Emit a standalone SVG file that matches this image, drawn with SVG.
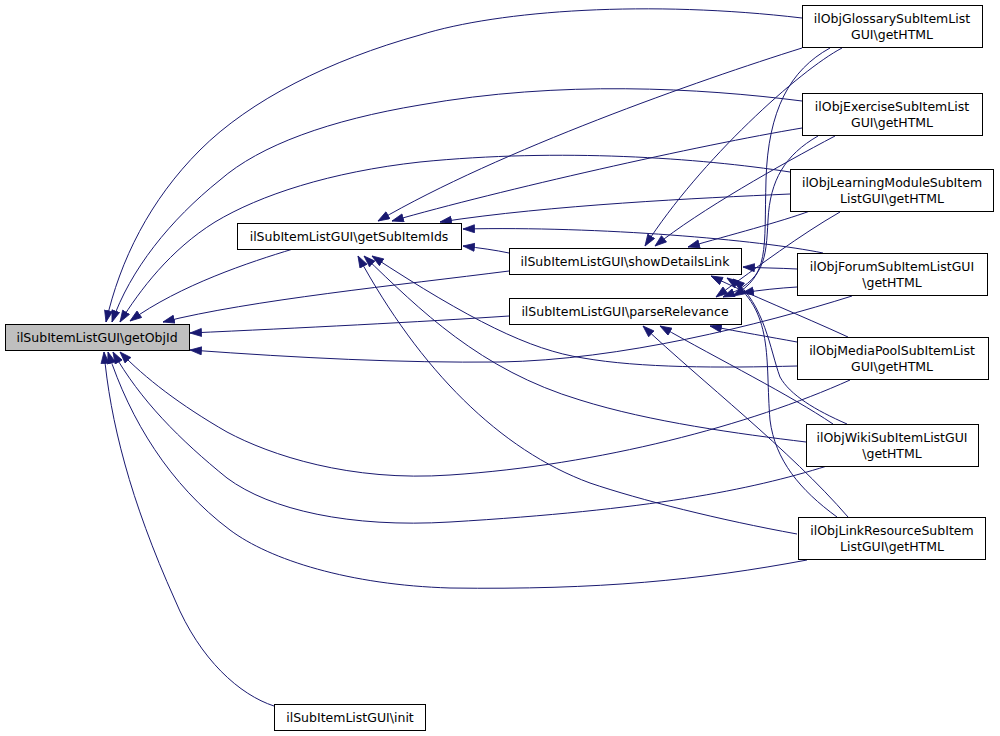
<svg xmlns="http://www.w3.org/2000/svg" width="1000" height="736" viewBox="0 0 1000 736">
<style>
.n rect{fill:#fff;stroke:#000;stroke-width:1}
.n text{font-family:"DejaVu Sans",sans-serif;font-size:12.5px;text-anchor:middle;fill:#000}
#n0 rect{fill:#bfbfbf}
.e path{fill:none;stroke:#191970;stroke-width:1;marker-end:url(#a)}
</style>
<defs>
<marker id="a" markerUnits="userSpaceOnUse" markerWidth="13" markerHeight="10" refX="12" refY="4.5" orient="auto">
<path d="M0.5,0.5 L12,4.5 L0.5,8.5 z" fill="#191970" stroke="#191970" stroke-width="0.8"/>
</marker>
</defs>
<rect width="1000" height="736" fill="#fff"/>
<g id="edges" class="e">
<path d="M802,18 C650,0 500,10 420,35 C330,60 250,100 200,150 C150,200 120,260 106,322"/>
<path d="M802,101 C700,88 560,80 420,105 C330,120 260,145 220,180 C170,220 130,270 112,322"/>
<path d="M790,172 C700,158 560,148 420,162 C330,172 260,195 215,222 C170,250 140,290 120,322"/>
<path d="M293,249 C250,262 180,285 130,321"/>
<path d="M509,271 C400,285 250,300 163,322"/>
<path d="M509,316 C420,322 300,328 190,333"/>
<path d="M852,296 C760,325 620,360 500,362 C400,363 300,358 190,350"/>
<path d="M850,380 C750,425 600,465 450,475 C350,482 270,455 227,432 C180,405 145,378 120,352"/>
<path d="M827,466 C750,490 650,510 450,522 C350,528 270,510 227,478 C180,440 140,400 113,352"/>
<path d="M807,560 C700,580 600,590 450,588 C350,585 270,560 230,530 C170,485 130,420 108,352"/>
<path d="M274,706 C240,695 200,660 175,600 C130,500 110,420 104,352"/>
<path d="M802,48 C700,80 500,150 378,221"/>
<path d="M802,128 C700,145 500,190 392,221"/>
<path d="M790,194 C700,198 550,205 440,222"/>
<path d="M823,253 C760,240 600,226 463,229"/>
<path d="M509,253 C495,250 480,248 463,246"/>
<path d="M797,366 C720,368 640,368 583,358 C530,350 470,320 372,256"/>
<path d="M806,442 C740,434 650,422 580,400 C480,370 420,310 364,256"/>
<path d="M797,534 C720,520 640,500 590,483 C500,450 420,370 358,256"/>
<path d="M842,48 C800,70 700,160 645,246"/>
<path d="M835,136 C780,165 700,210 655,246"/>
<path d="M810,211 C780,222 730,235 688,247"/>
<path d="M797,269 C780,268 760,268 743,267"/>
<path d="M848,337 C800,315 750,295 711,276"/>
<path d="M847,424 C815,410 790,395 780,377 C770,350 765,305 733,279"/>
<path d="M837,517 C800,490 775,460 770,420 C765,360 775,310 727,278"/>
<path d="M830,48 C790,70 768,110 766,180 C764,250 770,275 733,296"/>
<path d="M818,136 C785,155 770,180 768,220 C766,260 765,280 723,297"/>
<path d="M840,212 C800,235 760,265 716,297"/>
<path d="M797,287 C780,288 760,290 742,293"/>
<path d="M797,342 C770,337 740,332 710,326"/>
<path d="M833,424 C790,395 720,360 660,326"/>
<path d="M848,517 C790,450 700,380 643,326"/>
</g>
<g id="n0" class="n"><rect x="5.5" y="324.5" width="184" height="26"/><text x="97" y="341.5">ilSubItemListGUI\getObjId</text></g>
<g id="n1" class="n"><rect x="237.5" y="223.5" width="224" height="26"/><text x="349" y="240.5">ilSubItemListGUI\getSubItemIds</text></g>
<g id="n2" class="n"><rect x="509.5" y="248.5" width="232" height="26"/><text x="625" y="265.5">ilSubItemListGUI\showDetailsLink</text></g>
<g id="n3" class="n"><rect x="509.5" y="298.5" width="232" height="26"/><text x="625" y="315.5">ilSubItemListGUI\parseRelevance</text></g>
<g id="n4" class="n"><rect x="274.5" y="704.5" width="151" height="26"/><text x="350" y="721.5">ilSubItemListGUI\init</text></g>
<g id="n5" class="n"><rect x="802.5" y="5.5" width="180" height="42"/><text x="892" y="23">ilObjGlossarySubItemList</text><text x="892" y="39">GUI\getHTML</text></g>
<g id="n6" class="n"><rect x="802.5" y="93.5" width="180" height="42"/><text x="892" y="111">ilObjExerciseSubItemList</text><text x="892" y="127">GUI\getHTML</text></g>
<g id="n7" class="n"><rect x="790.5" y="169.5" width="203" height="42"/><text x="892" y="187">ilObjLearningModuleSubItem</text><text x="892" y="203">ListGUI\getHTML</text></g>
<g id="n8" class="n"><rect x="797.5" y="253.5" width="190" height="42"/><text x="892" y="271">ilObjForumSubItemListGUI</text><text x="892" y="287">\getHTML</text></g>
<g id="n9" class="n"><rect x="797.5" y="337.5" width="191" height="42"/><text x="892" y="355">ilObjMediaPoolSubItemList</text><text x="892" y="371">GUI\getHTML</text></g>
<g id="n10" class="n"><rect x="806.5" y="424.5" width="172" height="42"/><text x="892" y="442">ilObjWikiSubItemListGUI</text><text x="892" y="458">\getHTML</text></g>
<g id="n11" class="n"><rect x="798.5" y="517.5" width="187" height="42"/><text x="892" y="535">ilObjLinkResourceSubItem</text><text x="892" y="551">ListGUI\getHTML</text></g>
</svg>
